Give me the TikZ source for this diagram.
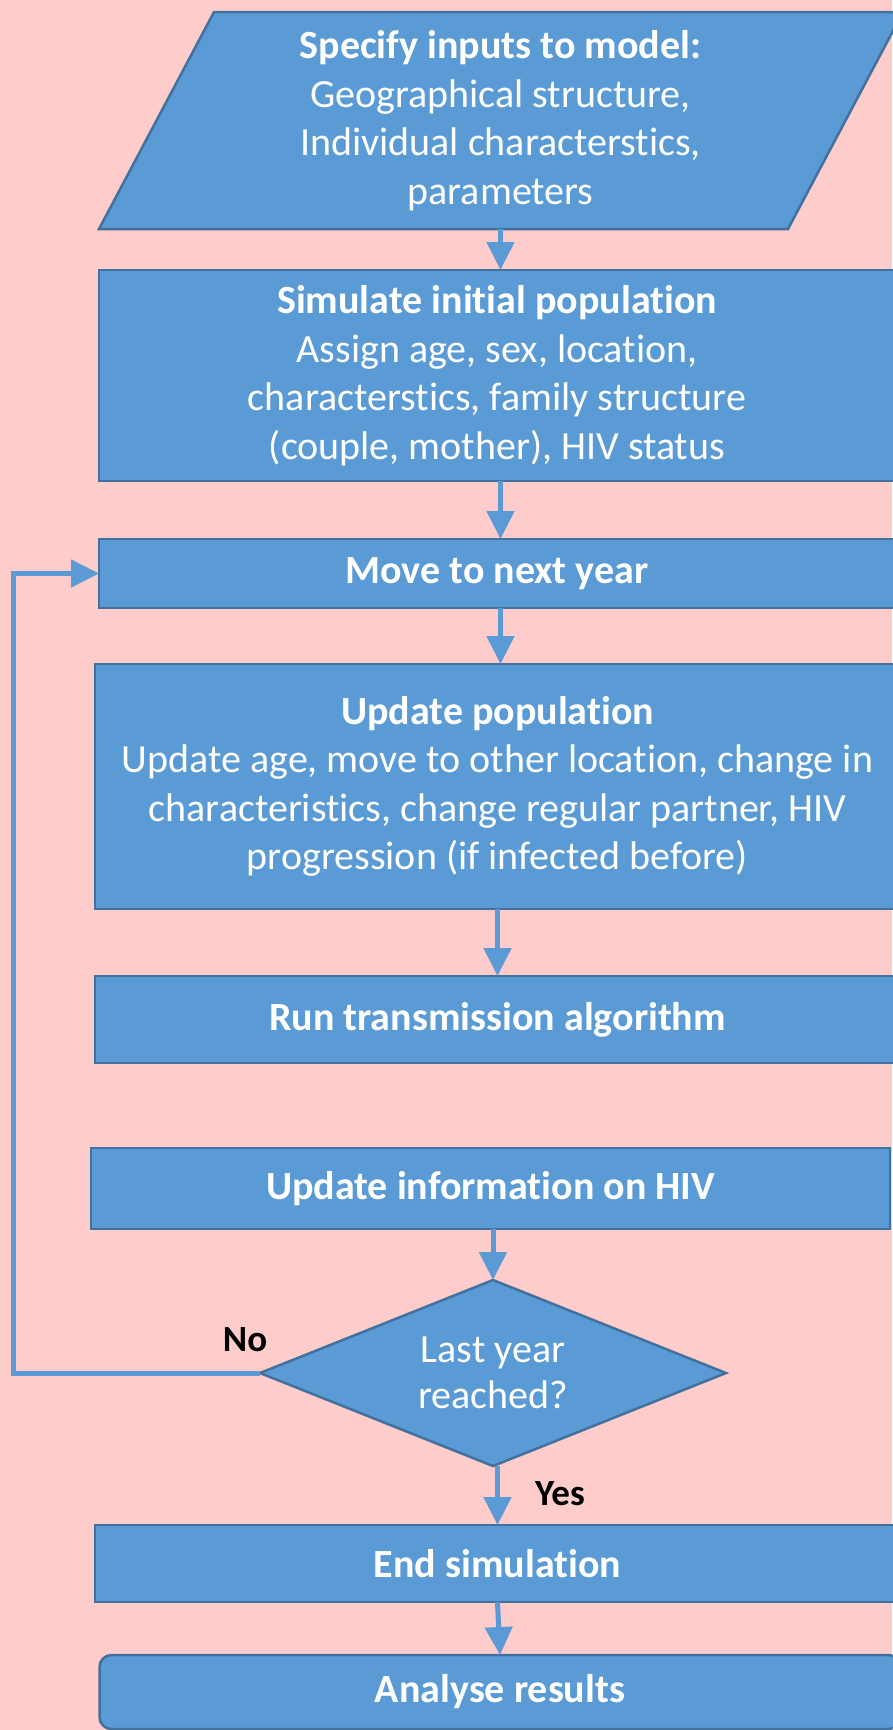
\documentclass[tikz,border=0pt]{standalone}
\usepackage{fontspec}
\setmainfont{Carlito}[Ligatures={NoCommon,NoContextual}]
\usetikzlibrary{shapes.geometric,arrows.meta,calc}
\definecolor{bgpink}{HTML}{FFCCCC}
\definecolor{boxblue}{HTML}{5B9BD5}
\definecolor{boxedge}{HTML}{41719C}
\begin{document}
\begin{tikzpicture}[x=1pt,y=-1pt,
  every node/.style={inner sep=0pt,outer sep=0pt},
  txt/.style={text=white,align=center,font=\fontsize{40}{48.5}\selectfont},
  box/.style={txt,rectangle,draw=boxedge,fill=boxblue,line width=2.5pt},
  arr/.style={draw=boxblue,line width=5pt,-{Triangle[length=28pt,width=27pt]}},
  lbl/.style={text=black,font=\fontsize{37}{44}\selectfont\bfseries}]
\fill[bgpink] (0,0) rectangle (892,1730);
\useasboundingbox (0,0) rectangle (892,1730);
% input parallelogram
\draw[draw=boxedge,fill=boxblue,line width=2.5pt] (99,229) -- (214,12) -- (903,12) -- (788,229) -- cycle;
\node[txt,minimum width=688pt,minimum height=217pt] (inp) at (500.5,120.5)
  {\textbf{Specify inputs to model:}\\Geographical structure,\\Individual characterstics,\\parameters};
\node[box,minimum width=796pt,minimum height=211pt] (sim) at (497,375.5)
  {\textbf{Simulate initial population}\\Assign age, sex, location,\\characterstics, family structure\\(couple, mother), HIV status};
\node[box,minimum width=796pt,minimum height=69pt] (move) at (497,573.5) {\textbf{Move to next year}};
\node[box,minimum width=805pt,minimum height=245pt] (upd) at (497.5,786.5)
  {\textbf{Update population}\\Update age, move to other location, change in\\characteristics, change regular partner, HIV\\progression (if infected before)};
\node[box,minimum width=805pt,minimum height=87pt] (run) at (497.5,1019.5) {\textbf{Run transmission algorithm}};
\node[box,minimum width=799pt,minimum height=81pt] (hiv) at (490.5,1188.5) {\textbf{Update information on HIV}};
\node[box,diamond,shape aspect=2.5,minimum width=466pt,minimum height=186pt,font=\fontsize{40}{46}\selectfont] (dia) at (493,1373) {Last year\\reached?};
\node[box,minimum width=805pt,minimum height=77pt] (end) at (497.5,1563.5) {\textbf{End simulation}};
\node[box,rounded corners=12pt,minimum width=801pt,minimum height=74pt] (ana) at (500,1692) {\textbf{Analyse results}};
\node[lbl] (no) at (245,1340) {No};
\node[lbl] (yes) at (560,1494) {Yes};
\coordinate (lp) at (13,0);
% connectors
\draw[arr] (inp.south) -- (inp.south |- sim.north);
\draw[arr] (sim.south -| inp.south) -- (move.north -| inp.south);
\draw[arr] (move.south -| inp.south) -- (upd.north -| inp.south);
\draw[arr] (upd.south) -- (upd.south |- run.north);
\draw[arr] (hiv.south -| dia.north) -- (dia.north);
\draw[arr] (dia.south -| end.north) -- (end.north);
\draw[arr] (end.south) -- (ana.north);
\draw[arr] (dia.west) -- (dia.west -| lp) -- (move.west -| lp) -- (move.west);
\end{tikzpicture}
\end{document}
